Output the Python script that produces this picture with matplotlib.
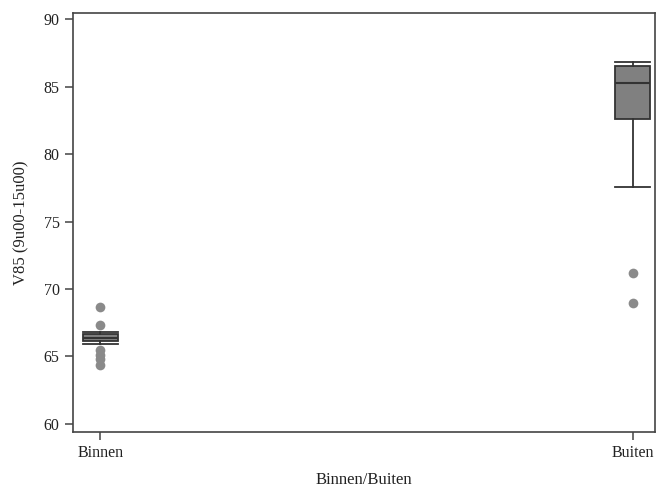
import numpy as np
import matplotlib
matplotlib.use("Agg")
import matplotlib.pyplot as plt

plt.rcParams['font.family'] = ['Liberation Serif', 'DejaVu Serif']

# Box summaries per group: lower whisker, Q1, median, Q3, upper whisker
groups = ["Binnen", "Buiten"]
whislo = [65.95, 77.55]
q1 = [66.15, 82.6]
med = [66.4, 85.3]
q3 = [66.7, 86.5]
whishi = [66.85, 86.85]
outliers = [
    [68.65, 67.35, 65.5, 65.1, 64.8, 64.35],
    [71.15, 69.0],
]

stats = []
for i, g in enumerate(groups):
    stats.append(dict(label=g, whislo=whislo[i], q1=q1[i], med=med[i],
                      q3=q3[i], whishi=whishi[i], fliers=outliers[i]))

fig = plt.figure(figsize=(6.56, 4.91), dpi=100)
ax = fig.add_axes([0.111, 0.12, 0.8875, 0.8535])

edge = "#333333"
ax.bxp(stats, positions=[0, 1], widths=0.066, patch_artist=True,
       boxprops=dict(facecolor="#808080", edgecolor=edge, linewidth=1.3),
       medianprops=dict(color=edge, linewidth=1.5),
       whiskerprops=dict(color=edge, linewidth=1.3),
       capprops=dict(color=edge, linewidth=1.3),
       flierprops=dict(marker="o", markersize=7, markerfacecolor="#8a8a8a",
                       markeredgecolor="none"),
       capwidths=0.066)

ax.set_xlim(-0.052, 1.042)
ax.set_ylim(59.4, 90.45)
ax.set_yticks([60, 65, 70, 75, 80, 85, 90])
ax.set_xticks([0, 1])
ax.set_xticklabels(groups)

for s in ax.spines.values():
    s.set_color("#444444")
    s.set_linewidth(1.2)
ax.tick_params(direction="out", length=6, width=1.1, color="#444444",
               labelsize=11.5, labelcolor="#222222")

ax.set_ylabel("V85 (9u00-15u00)", fontsize=12, color="#222222", labelpad=10)
ax.set_xlabel("Binnen/Buiten", fontsize=12, color="#222222", labelpad=8)

fig.savefig("out.png", dpi=100)
